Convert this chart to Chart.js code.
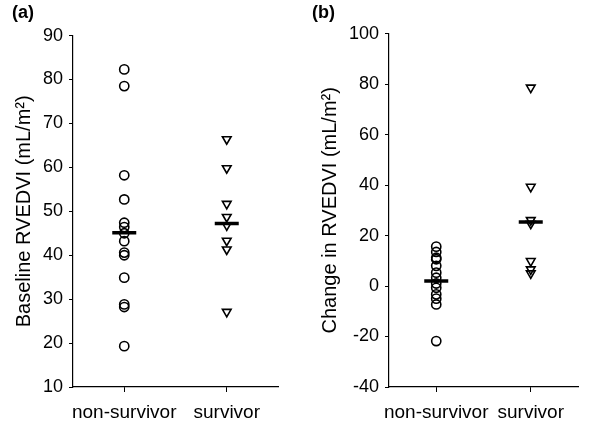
<!DOCTYPE html>
<html>
<head>
<meta charset="utf-8">
<script src="https://cdn.jsdelivr.net/npm/chart.js@4.4.0/dist/chart.umd.min.js"></script>
<style>
  body { margin: 0; background: #fff; }
  .wrap { display: flex; width: 600px; height: 422px; }
  canvas { display: block; }
</style>
</head>
<body>
<div class="wrap">
  <canvas id="chartA" width="300" height="422"></canvas>
  <canvas id="chartB" width="300" height="422"></canvas>
</div>
<script>
// groups on the x axis
var groups = ['non-survivor', 'survivor'];

// (a) baseline RVEDVI
var baselineNonSurvivor = [82.3, 78.5, 58.2, 52.7, 47.4, 46.4, 45.0, 43.2, 40.6, 40.0, 34.9, 28.8, 28.2, 19.3];
var baselineSurvivor = [66.4, 59.8, 51.7, 48.7, 46.8, 43.3, 41.3, 27.1];
var baselineCentre = [45.1, 47.2];
var baselineTicks = [10, 20, 30, 40, 50, 60, 70, 80, 90];

// (b) change in RVEDVI
var changeNonSurvivor = [15.6, 13.5, 11.2, 10.6, 8.0, 5.3, 3.3, 1.0, -0.7, -3.3, -5.0, -7.3, -21.8];
var changeSurvivor = [78.6, 39.3, 26.1, 24.7, 9.9, 6.6, 5.0];
var changeCentre = [2.0, 25.4];
var changeTicks = [-40, -20, 0, 20, 40, 60, 80, 100];

var FONT = 'Arial, "Liberation Sans", Helvetica, sans-serif';

function toPoints(group, values) {
  return values.map(function (v) { return { x: group, y: v }; });
}

function makeChart(id, panel, yTitle, nonSurv, surv, centre, ticks, yWidth, titlePad, yTitlePad) {
  var ctx = document.getElementById(id);
  return new Chart(ctx, {
    type: 'line',
    data: {
      labels: groups,
      datasets: [{
        // horizontal bar for the group centre, drawn on top
        data: [{ x: groups[0], y: centre[0] }, { x: groups[1], y: centre[1] }],
        showLine: false,
        pointStyle: 'line',
        pointRadius: 12,
        pointBorderWidth: 3.5,
        pointBorderColor: '#000'
      }, {
        data: toPoints(groups[0], nonSurv),
        showLine: false,
        pointStyle: 'circle',
        pointRadius: 4.6,
        pointBorderWidth: 1.6,
        pointBorderColor: '#000',
        pointBackgroundColor: 'rgba(0,0,0,0)'
      }, {
        data: toPoints(groups[1], surv),
        showLine: false,
        pointStyle: 'triangle',
        pointRotation: 180,
        pointRadius: 5,
        pointBorderWidth: 1.6,
        pointBorderColor: '#000',
        pointBackgroundColor: 'rgba(0,0,0,0)'
      }]
    },
    options: {
      responsive: false,
      animation: false,
      layout: { padding: { left: 12, right: 22, top: 0, bottom: 0 } },
      plugins: {
        legend: { display: false },
        tooltip: { enabled: false },
        title: {
          display: true,
          text: panel,
          align: 'start',
          color: '#000',
          font: { family: FONT, size: 18, weight: 'bold' },
          padding: { top: 2, bottom: titlePad }
        }
      },
      scales: {
        x: {
          type: 'category',
          offset: true,
          grid: { display: true, drawOnChartArea: false, offset: false, tickLength: 5, color: '#000' },
          border: { display: true, color: '#000', width: 1.2 },
          ticks: { color: '#000', padding: 9, autoSkip: false, maxRotation: 0, minRotation: 0,
                   font: { family: FONT, size: 19 } },
          afterFit: function (scale) { scale.height = 35; }
        },
        y: {
          min: ticks[0],
          max: ticks[ticks.length - 1],
          afterBuildTicks: function (scale) {
            scale.ticks = ticks.map(function (v) { return { value: v }; });
          },
          grid: { display: true, drawOnChartArea: false, tickLength: 4, color: '#000' },
          border: { display: true, color: '#000', width: 1.2 },
          ticks: { color: '#000', padding: 6, font: { family: FONT, size: 18 } },
          title: {
            display: true,
            text: yTitle,
            color: '#000',
            font: { family: FONT, size: 20 },
            padding: { top: yTitlePad, bottom: 0 }
          },
          afterFit: function (scale) { scale.width = yWidth; }
        }
      }
    }
  });
}

makeChart('chartA', '(a)', 'Baseline RVEDVI (mL/m\u00B2)',
  baselineNonSurvivor, baselineSurvivor, baselineCentre, baselineTicks, 61, 12, 0);
makeChart('chartB', '(b)', 'Change in RVEDVI (mL/m\u00B2)',
  changeNonSurvivor, changeSurvivor, changeCentre, changeTicks, 77, 10, 6);
</script>
</body>
</html>
